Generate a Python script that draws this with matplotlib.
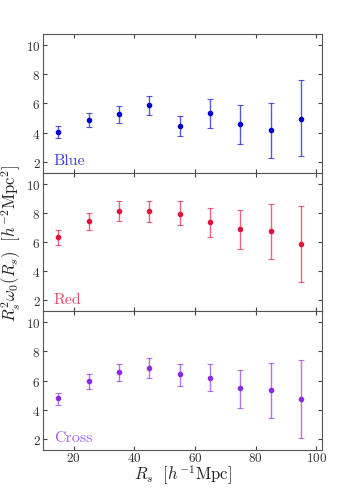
import matplotlib
matplotlib.use("Agg")
import matplotlib.pyplot as plt

# separation bins (h^-1 Mpc)
rs = [15, 25, 35, 45, 55, 65, 75, 85, 95]

blue_val = [4.06, 4.88, 5.27, 5.89, 4.47, 5.36, 4.56, 4.17, 4.97]
blue_lo = [3.60, 4.40, 4.67, 5.20, 3.78, 4.35, 3.23, 2.27, 2.37]
blue_hi = [4.47, 5.36, 5.84, 6.53, 5.13, 6.32, 5.91, 6.02, 7.60]

red_val = [6.34, 7.41, 8.11, 8.11, 7.95, 7.36, 6.86, 6.73, 5.84]
red_lo = [5.82, 6.80, 7.41, 7.36, 7.14, 6.36, 5.50, 4.82, 3.23]
red_hi = [6.84, 8.00, 8.80, 8.82, 8.82, 8.34, 8.18, 8.61, 8.45]

cross_val = [4.78, 5.95, 6.57, 6.85, 6.44, 6.21, 5.47, 5.33, 4.76]
cross_lo = [4.34, 5.45, 6.00, 6.21, 5.66, 5.26, 4.14, 3.45, 2.09]
cross_hi = [5.15, 6.46, 7.15, 7.52, 7.17, 7.15, 6.71, 7.22, 7.38]

names = ["Blue", "Red", "Cross"]
colors = ["#0000cc", "#dc143c", "#8a2be2"]

plt.rcParams['font.family'] = 'cmr10'
plt.rcParams['mathtext.fontset'] = 'cm'
plt.rcParams['axes.formatter.use_mathtext'] = True

fig, axes = plt.subplots(3, 1, figsize=(3.43, 4.89), dpi=100, sharex=True)
fig.subplots_adjust(left=0.126, right=0.94, top=0.928, bottom=0.078, hspace=0)

series = [(blue_val, blue_lo, blue_hi), (red_val, red_lo, red_hi), (cross_val, cross_lo, cross_hi)]
for ax, (val, lo, hi), name, col in zip(axes, series, names, colors):
    err = [[v - l for v, l in zip(val, lo)], [h - v for v, h in zip(val, hi)]]
    ax.errorbar(rs, val, yerr=err, fmt='none', ecolor=col, elinewidth=1.0,
                capsize=2, capthick=0.8, alpha=0.65)
    ax.plot(rs, val, 'o', color=col, markersize=3)
    ax.text(13.5, 2.1, name, color=col, alpha=0.75, fontsize=11.5, va='center', ha='left')
    ax.set_xlim(10, 102)
    ax.set_ylim(1.25, 10.75)
    ax.set_yticks([2, 4, 6, 8, 10])
    ax.set_xticks([20, 40, 60, 80, 100])
    ax.tick_params(direction='in', top=True, right=True, labelsize=9.5, colors='#444444',
                   labelcolor='#333333', length=3, pad=2)
    ax.tick_params(axis='x', pad=1)
    for s in ax.spines.values():
        s.set_color('#555555')

axes[2].set_xlabel(r'$R_s\ \ [h^{-1}\mathrm{Mpc}]$', fontsize=12, color='#222222', labelpad=-1)
axes[1].set_ylabel(r'$R_s^2\omega_0(R_s)\ \ [h^{-2}\mathrm{Mpc}^2]$', fontsize=12, color='#222222', labelpad=2)

plt.savefig("out.png", dpi=100)
